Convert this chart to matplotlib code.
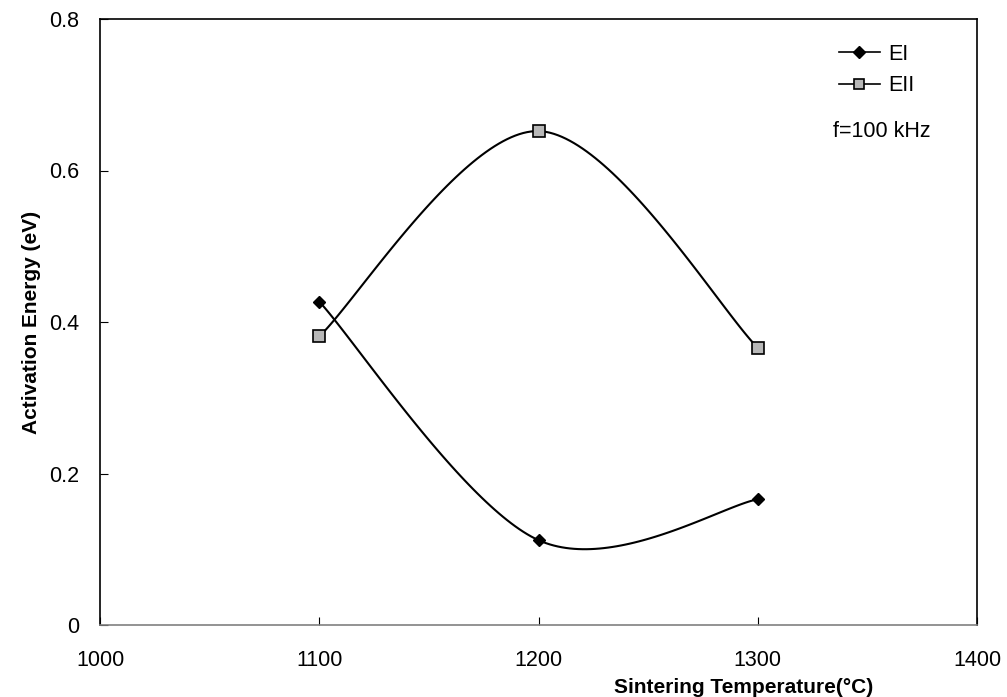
import numpy as np
import matplotlib
matplotlib.use('Agg')
import matplotlib.pyplot as plt

plt.rcParams['font.family'] = ['Liberation Sans', 'DejaVu Sans']

# Datos
temperature = [1100, 1200, 1300]
e_one = [0.427, 0.112, 0.166]
e_two = [0.381, 0.652, 0.366]

XLIM = (1000, 1400)
YLIM = (0, 0.8)


def excel_smooth(x, y, n=60):
    # curva suavizada tipo Excel (Bezier con tangentes Catmull-Rom), en coords normalizadas
    px = (np.asarray(x, float) - XLIM[0]) / (XLIM[1] - XLIM[0]) * 877
    py = (np.asarray(y, float) - YLIM[0]) / (YLIM[1] - YLIM[0]) * 606
    P = np.column_stack([px, py])
    out = []
    for i in range(len(P) - 1):
        p0 = P[i - 1] if i > 0 else P[i]
        p3 = P[i + 2] if i + 2 < len(P) else P[i + 1]
        c1 = P[i] + (P[i + 1] - p0) / 6
        c2 = P[i + 1] - (p3 - P[i]) / 6
        t = np.linspace(0, 1, n)[:, None]
        seg = ((1 - t) ** 3) * P[i] + 3 * ((1 - t) ** 2) * t * c1 + 3 * (1 - t) * t ** 2 * c2 + t ** 3 * P[i + 1]
        out.append(seg)
    out = np.vstack(out)
    xs = out[:, 0] / 877 * (XLIM[1] - XLIM[0]) + XLIM[0]
    ys = out[:, 1] / 606 * (YLIM[1] - YLIM[0]) + YLIM[0]
    return xs, ys


fig = plt.figure(figsize=(10.07, 6.97), dpi=100)
ax = fig.add_axes([100 / 1007, 1 - 625 / 697, 877 / 1007, 606 / 697])

xs, ys = excel_smooth(temperature, e_one)
ax.plot(xs, ys, color='black', lw=1.5)
ax.plot(temperature, e_one, 'D', color='black', markersize=6, ls='none')
ax.plot([], [], '-D', color='black', markersize=6, lw=1.2, label='EI')

xs, ys = excel_smooth(temperature, e_two)
ax.plot(xs, ys, color='black', lw=1.5)
ax.plot(temperature, e_two, 's', mfc='#b8b8b8', mec='black', mew=1.2, markersize=8, ls='none')
ax.plot([], [], '-s', mfc='#b8b8b8', mec='black', mew=1.2, color='black', markersize=7, lw=1.2, label='EII')

ax.set_xlim(*XLIM)
ax.set_ylim(*YLIM)
ax.set_xticks([1000, 1100, 1200, 1300, 1400])
ax.set_yticks([0, 0.2, 0.4, 0.6, 0.8])
ax.set_yticklabels(['0', '0.2', '0.4', '0.6', '0.8'])
ax.tick_params(direction='in', length=6, labelsize=15.5, color='black')
ax.tick_params(axis='x', pad=18)
ax.tick_params(axis='y', pad=15)
for s in ax.spines.values():
    s.set_linewidth(1.2)
ax.spines['bottom'].set_color('#808080')

ax.set_xlabel('Sintering Temperature(°C)', fontsize=15, fontweight='bold', va='center')
ax.xaxis.set_label_coords(0.734, -0.103)
ax.set_ylabel('Activation Energy (eV)', fontsize=15, fontweight='bold', labelpad=6)

leg = ax.legend(loc='upper left', bbox_to_anchor=(0.830, 0.977), frameon=False, fontsize=15.5,
                borderpad=0, handlelength=1.9, handletextpad=0.4, labelspacing=0.48)
ax.text(0.836, 0.815, 'f=100 kHz', transform=ax.transAxes, fontsize=15.5, ha='left', va='center')

fig.savefig('out.png', dpi=100)
